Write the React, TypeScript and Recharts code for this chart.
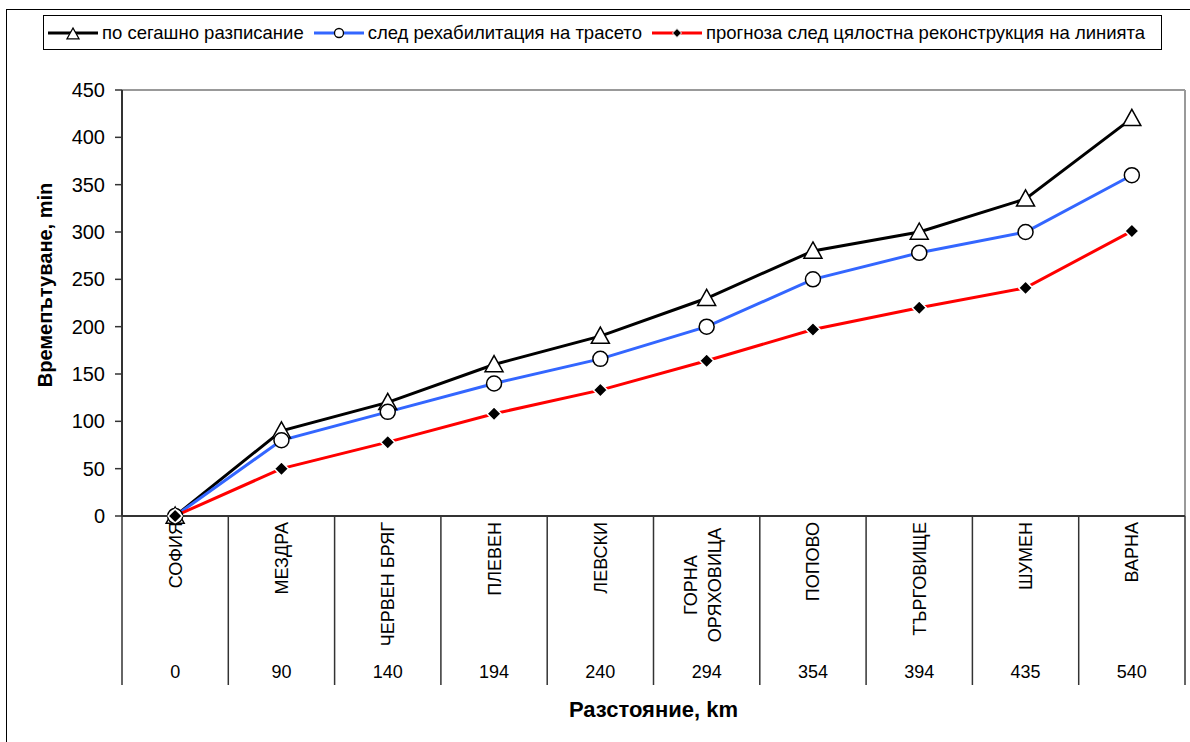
import React from "react";
import { LineChart, Line, XAxis, YAxis, ReferenceLine, Label } from "recharts";

// stations along the Sofia - Varna line
const stations = [
  "СОФИЯ",
  "МЕЗДРА",
  "ЧЕРВЕН БРЯГ",
  "ПЛЕВЕН",
  "ЛЕВСКИ",
  "ГОРНА\nОРЯХОВИЦА",
  "ПОПОВО",
  "ТЪРГОВИЩЕ",
  "ШУМЕН",
  "ВАРНА",
];
const distancesKm = [0, 90, 140, 194, 240, 294, 354, 394, 435, 540];

// travel time, min
const currentSchedule = [0, 90, 120, 160, 190, 230, 280, 300, 335, 420];
const afterRehab = [0, 80, 110, 140, 166, 200, 250, 278, 300, 360];
const afterReconstruction = [0, 50, 78, 108, 133, 164, 197, 220, 241, 301];

const yTicks = [0, 50, 100, 150, 200, 250, 300, 350, 400, 450];

const seriesNames = [
  "по сегашно разписание",
  "след рехабилитация на трасето",
  "прогноза след цялостна реконструкция на линията",
];

const data = stations.map((name, i) => ({
  name,
  km: distancesKm[i],
  current: currentSchedule[i],
  rehab: afterRehab[i],
  reconstruction: afterReconstruction[i],
}));

const FONT = '"Liberation Sans", Arial, sans-serif';
const W = 1190;
const H = 742;
const MARGIN = { top: 90, right: 5, bottom: 56, left: 62 };
const Y_AXIS_W = 60;
const X_AXIS_H = 170;
const BLUE = "#3366ff";
const RED = "#ff0000";

const plotW = W - MARGIN.left - Y_AXIS_W - MARGIN.right;
const plotH = H - MARGIN.top - MARGIN.bottom - X_AXIS_H;
const band = plotW / stations.length;

function triangle(cx: number, cy: number, r: number) {
  return `M${cx},${cy - r} L${cx + r},${cy + r * 0.8} L${cx - r},${cy + r * 0.8} Z`;
}

function diamond(cx: number, cy: number, r: number) {
  return `M${cx},${cy - r} L${cx + r},${cy} L${cx},${cy + r} L${cx - r},${cy} Z`;
}

const TriangleDot = (props: any) => {
  const { cx, cy, index } = props;
  if (cx == null || cy == null) return <g key={index} />;
  return (
    <path key={index} d={triangle(cx, cy, 9)} fill="#fff" stroke="#000" strokeWidth={1.5} />
  );
};

const CircleDot = (props: any) => {
  const { cx, cy, index } = props;
  if (cx == null || cy == null) return <g key={index} />;
  return <circle key={index} cx={cx} cy={cy} r={7.5} fill="#fff" stroke="#000" strokeWidth={1.5} />;
};

const DiamondDot = (props: any) => {
  const { cx, cy, index } = props;
  if (cx == null || cy == null) return <g key={index} />;
  return (
    <path key={index} d={diamond(cx, cy, 7)} fill="#000" stroke="#fff" strokeWidth={1.5} />
  );
};

const StationTick = (props: any) => {
  const { x, y, payload, index } = props;
  const i = payload?.index ?? index;
  const lines = String(payload.value).split("\n");
  const lineH = 24;
  const sep = "#333";
  return (
    <g>
      <line x1={x - band / 2} y1={y} x2={x - band / 2} y2={y + 169} stroke={sep} strokeWidth={1.5} />
      {i === stations.length - 1 && (
        <line x1={x + band / 2} y1={y} x2={x + band / 2} y2={y + 169} stroke={sep} strokeWidth={1.5} />
      )}
      {lines.length === 1 ? (
        <text
          x={x}
          y={y + 6}
          transform={`rotate(-90, ${x}, ${y + 6})`}
          textAnchor="end"
          dy="0.36em"
          fontSize={18}
          fontFamily={FONT}
          fill="#000"
        >
          {lines[0]}
        </text>
      ) : (
        lines.map((ln, k) => {
          const lx = x + (k - (lines.length - 1) / 2) * lineH - 4;
          const ly = y + 69;
          return (
            <text
              key={k}
              x={lx}
              y={ly}
              transform={`rotate(-90, ${lx}, ${ly})`}
              textAnchor="middle"
              dy="0.36em"
              fontSize={18}
              fontFamily={FONT}
              fill="#000"
            >
              {ln}
            </text>
          );
        })
      )}
      <text x={x} y={y + 162} textAnchor="middle" fontSize={18} fontFamily={FONT} fill="#000">
        {distancesKm[i]}
      </text>
    </g>
  );
};

const YTitle = () => {
  const cx = MARGIN.left - 17;
  const cy = MARGIN.top + plotH / 2 - 18;
  return (
    <text
      x={cx}
      y={cy}
      transform={`rotate(-90, ${cx}, ${cy})`}
      textAnchor="middle"
      dy="0.36em"
      fontSize={20}
      fontWeight="bold"
      fontFamily={FONT}
      fill="#000"
    >
      Времепътуване, min
    </text>
  );
};

const XTitle = () => {
  return (
    <text
      x={MARGIN.left + Y_AXIS_W + plotW / 2}
      y={MARGIN.top + plotH + X_AXIS_H + 31}
      textAnchor="middle"
      fontSize={22}
      fontWeight="bold"
      fontFamily={FONT}
      fill="#000"
    >
      Разстояние, km
    </text>
  );
};

function LegendIcon({ kind }: { kind: number }) {
  const color = kind === 0 ? "#000" : kind === 1 ? BLUE : RED;
  return (
    <svg width={50} height={16} style={{ display: "block" }}>
      <line x1={0} y1={8} x2={50} y2={8} stroke={color} strokeWidth={3} />
      {kind === 0 && <path d={triangle(25, 9, 6)} fill="#fff" stroke="#000" strokeWidth={1.3} />}
      {kind === 1 && <circle cx={25} cy={8} r={4.5} fill="#fff" stroke="#000" strokeWidth={1.3} />}
      {kind === 2 && <path d={diamond(25, 8, 4.5)} fill="#000" stroke="#fff" strokeWidth={1} />}
    </svg>
  );
}

export default function App() {
  return (
    <div
      style={{
        position: "absolute",
        left: 0,
        top: 0,
        width: W,
        height: H,
        overflow: "hidden",
        background: "#fff",
        fontFamily: FONT,
      }}
    >
      <div
        style={{
          position: "absolute",
          left: 6,
          top: 9,
          width: 1400,
          height: 1000,
          border: "1px solid #000",
        }}
      />
      <div
        style={{
          position: "absolute",
          left: 43,
          top: 15,
          width: 1119,
          height: 35,
          border: "1px solid #000",
          display: "flex",
          alignItems: "center",
          paddingLeft: 4,
          boxSizing: "border-box",
          fontSize: 18.5,
          color: "#000",
          whiteSpace: "nowrap",
        }}
      >
        {seriesNames.map((n, i) => (
          <div key={n} style={{ display: "flex", alignItems: "center", marginRight: 10 }}>
            <LegendIcon kind={i} />
            <span style={{ marginLeft: 4 }}>{n}</span>
          </div>
        ))}
      </div>
      <div style={{ position: "absolute", left: 0, top: 0 }}>
        <LineChart width={W} height={H} data={data} margin={MARGIN}>
          <XAxis
            dataKey="name"
            type="category"
            scale="band"
            height={X_AXIS_H}
            interval={0}
            tickLine={false}
            tickSize={0}
            tickMargin={0}
            axisLine={{ stroke: "#333", strokeWidth: 2 }}
            tick={<StationTick />}
          >
            <Label content={<XTitle />} />
          </XAxis>
          <YAxis
            width={Y_AXIS_W}
            domain={[0, 450]}
            ticks={yTicks}
            interval={0}
            tickSize={7}
            tickMargin={10}
            axisLine={{ stroke: "#333", strokeWidth: 2 }}
            tickLine={{ stroke: "#333", strokeWidth: 1.5 }}
            tick={{ fontSize: 20, fill: "#000", fontFamily: FONT }}
          >
            <Label content={<YTitle />} />
          </YAxis>
          <ReferenceLine y={450} stroke="#999" strokeWidth={2} />
          <ReferenceLine x={stations[stations.length - 1]} position="end" stroke="#999" strokeWidth={2} />
          <Line
            dataKey="current"
            name={seriesNames[0]}
            stroke="#000"
            strokeWidth={3}
            dot={TriangleDot}
            activeDot={false}
            isAnimationActive={false}
          />
          <Line
            dataKey="rehab"
            name={seriesNames[1]}
            stroke={BLUE}
            strokeWidth={3}
            dot={CircleDot}
            activeDot={false}
            isAnimationActive={false}
          />
          <Line
            dataKey="reconstruction"
            name={seriesNames[2]}
            stroke={RED}
            strokeWidth={3}
            dot={DiamondDot}
            activeDot={false}
            isAnimationActive={false}
          />
        </LineChart>
      </div>
    </div>
  );
}
